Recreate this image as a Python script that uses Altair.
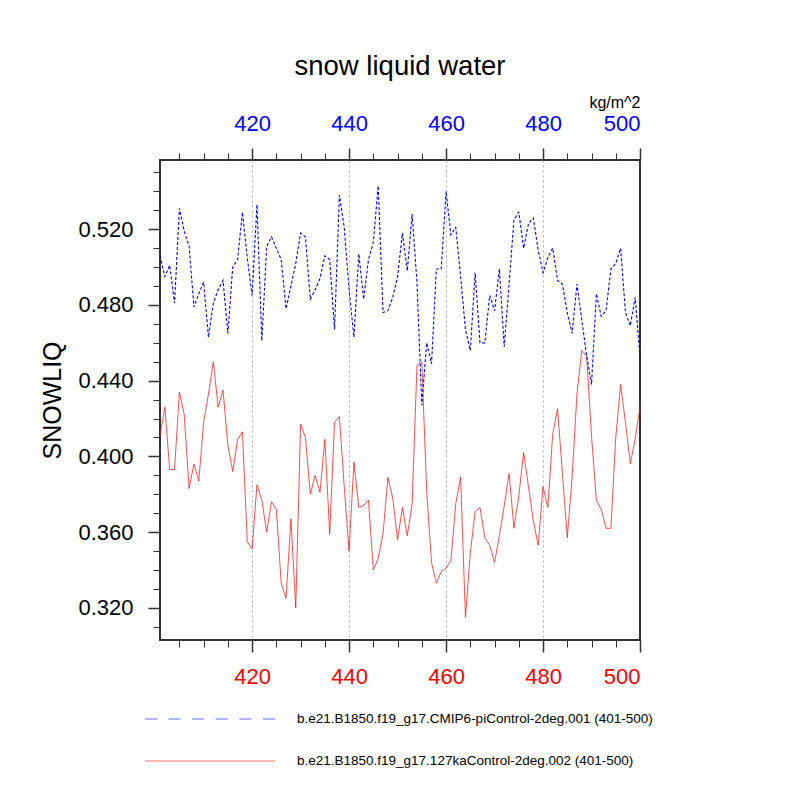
import altair as alt
import pandas as pd

FONT = "Liberation Sans"

years = list(range(401, 501))

blue_vals = [
    0.506, 0.495, 0.501, 0.481, 0.531, 0.519, 0.511, 0.479, 0.486, 0.492,
    0.463, 0.481, 0.488, 0.493, 0.465, 0.500, 0.504, 0.529, 0.505, 0.485,
    0.533, 0.461, 0.511, 0.516, 0.510, 0.504, 0.478, 0.490, 0.502, 0.518,
    0.516, 0.483, 0.488, 0.494, 0.506, 0.504, 0.467, 0.538, 0.521, 0.488,
    0.463, 0.507, 0.483, 0.504, 0.513, 0.543, 0.476, 0.477, 0.484, 0.495,
    0.518, 0.498, 0.528, 0.492, 0.427, 0.460, 0.449, 0.499, 0.499, 0.540,
    0.517, 0.521, 0.495, 0.467, 0.456, 0.497, 0.460, 0.460, 0.485, 0.477,
    0.499, 0.458, 0.491, 0.525, 0.529, 0.510, 0.523, 0.526, 0.509, 0.497,
    0.505, 0.510, 0.493, 0.491, 0.476, 0.465, 0.491, 0.472, 0.453, 0.438,
    0.486, 0.474, 0.477, 0.499, 0.502, 0.510, 0.476, 0.469, 0.484, 0.453,
]

red_vals = [
    0.411, 0.426, 0.393, 0.393, 0.434, 0.422, 0.383, 0.396, 0.387, 0.418,
    0.433, 0.450, 0.426, 0.435, 0.406, 0.392, 0.409, 0.413, 0.355, 0.351,
    0.385, 0.377, 0.360, 0.376, 0.372, 0.333, 0.325, 0.367, 0.320, 0.417,
    0.410, 0.380, 0.390, 0.381, 0.409, 0.359, 0.418, 0.421, 0.384, 0.350,
    0.397, 0.373, 0.374, 0.377, 0.340, 0.346, 0.359, 0.389, 0.378, 0.356,
    0.373, 0.358, 0.375, 0.448, 0.450, 0.382, 0.344, 0.333, 0.339, 0.341,
    0.345, 0.375, 0.389, 0.315, 0.349, 0.371, 0.373, 0.357, 0.353, 0.344,
    0.358, 0.374, 0.391, 0.362, 0.379, 0.402, 0.384, 0.366, 0.353, 0.384,
    0.373, 0.412, 0.425, 0.391, 0.357, 0.389, 0.433, 0.456, 0.453, 0.411,
    0.377, 0.372, 0.362, 0.362, 0.410, 0.438, 0.418, 0.396, 0.409, 0.426,
]

blue_name = "b.e21.B1850.f19_g17.CMIP6-piControl-2deg.001 (401-500)"
red_name = "b.e21.B1850.f19_g17.127kaControl-2deg.002 (401-500)"

major_years = [420, 440, 460, 480, 500]
grid_years = [420, 440, 460, 480]
minor_years = [405, 410, 415, 425, 430, 435, 445, 450, 455, 465, 470, 475,
               485, 490, 495]
major_vals = [0.32, 0.36, 0.40, 0.44, 0.48, 0.52]
minor_vals = [0.31, 0.33, 0.34, 0.35, 0.37, 0.38, 0.39, 0.41, 0.42, 0.43,
              0.45, 0.46, 0.47, 0.49, 0.50, 0.51, 0.53, 0.54, 0.55]

blue_df = pd.DataFrame({"year": years, "value": blue_vals})
red_df = pd.DataFrame({"year": years, "value": red_vals})
leg_blue = pd.DataFrame({"label": [blue_name]})
leg_red = pd.DataFrame({"label": [red_name]})

xscale = alt.Scale(domain=[401, 500], nice=False, zero=False)
yscale = alt.Scale(domain=[0.303, 0.5566], nice=False, zero=False)

TICK = "#333333"
LBL = 22

# red line with bottom/left major axes
red_layer = alt.Chart(red_df).mark_line(color="#ff0000", strokeWidth=0.7).encode(
    x=alt.X("year:Q", scale=xscale, axis=alt.Axis(
        orient="bottom", values=major_years, format="d", tickSize=12,
        tickWidth=1.5, tickColor=TICK, domain=False, labelColor="#ff0000",
        labelFont=FONT, labelFontSize=LBL, labelPadding=14, grid=False,
        title=None)),
    y=alt.Y("value:Q", scale=yscale, axis=alt.Axis(
        orient="left", values=major_vals, format=".3f", tickSize=12,
        tickWidth=1.5, tickColor=TICK, domain=False, labelColor="black",
        labelFont=FONT, labelFontSize=LBL, labelPadding=15, grid=False,
        title="SNOWLIQ", titleFont=FONT, titleFontSize=25,
        titleFontWeight="normal", titleColor="black", titlePadding=12)),
)

# blue line with top major axis
blue_layer = alt.Chart(blue_df).mark_line(
    color="#0000ff", strokeWidth=1.1, strokeDash=[3, 2]).encode(
    x=alt.X("year:Q", scale=xscale, axis=alt.Axis(
        orient="top", values=major_years, format="d", tickSize=12,
        tickWidth=1.5, tickColor=TICK, domain=False, labelColor="#0000ff",
        labelFont=FONT, labelFontSize=LBL, labelPadding=13, grid=False,
        title="kg/m^2", titleFont=FONT, titleFontSize=16,
        titleFontWeight="normal", titleColor="black", titleAnchor="end",
        titlePadding=2)),
    y=alt.Y("value:Q", scale=yscale, axis=None),
)

# minor ticks bottom / left
minor_bl = alt.Chart(red_df).mark_line(opacity=0).encode(
    x=alt.X("year:Q", scale=xscale, axis=alt.Axis(
        orient="bottom", values=minor_years, tickSize=7, tickWidth=1,
        tickColor=TICK, domain=False, labels=False, grid=False, title=None)),
    y=alt.Y("value:Q", scale=yscale, axis=alt.Axis(
        orient="left", values=minor_vals, tickSize=7, tickWidth=1,
        tickColor=TICK, domain=False, labels=False, grid=False, title=None)),
)

# minor ticks top
minor_t = alt.Chart(blue_df).mark_line(opacity=0).encode(
    x=alt.X("year:Q", scale=xscale, axis=alt.Axis(
        orient="top", values=minor_years, tickSize=7, tickWidth=1,
        tickColor=TICK, domain=False, labels=False, grid=False, title=None)),
    y=alt.Y("value:Q", scale=yscale, axis=None),
)

# dotted vertical grid
grid_layer = alt.Chart(red_df).mark_line(opacity=0).encode(
    x=alt.X("year:Q", scale=xscale, axis=alt.Axis(
        orient="bottom", values=grid_years, ticks=False, labels=False,
        domain=False, grid=True, gridColor="#b0b0b0", gridDash=[2, 3],
        gridWidth=1, title=None)),
    y=alt.Y("value:Q", scale=yscale, axis=None),
)

# legend (drawn below the plot)
leg_blue_line = alt.Chart(leg_blue).mark_rule(
    color="#6666ff", strokeWidth=1, strokeDash=[12, 11.6]).encode(
    x=alt.value(-15), x2=alt.value(115), y=alt.value(559))
leg_blue_text = alt.Chart(leg_blue).mark_text(
    align="left", baseline="middle", font=FONT, fontSize=13.5,
    color="black").encode(text="label:N", x=alt.value(137), y=alt.value(559))
leg_red_line = alt.Chart(leg_red).mark_rule(
    color="#f07070", strokeWidth=1).encode(
    x=alt.value(-15), x2=alt.value(115), y=alt.value(601))
leg_red_text = alt.Chart(leg_red).mark_text(
    align="left", baseline="middle", font=FONT, fontSize=13.5,
    color="black").encode(text="label:N", x=alt.value(137), y=alt.value(601))

chart = alt.layer(
    grid_layer, minor_bl, minor_t, red_layer, blue_layer,
    leg_blue_line, leg_blue_text, leg_red_line, leg_red_text,
).resolve_scale(
    x="independent", y="independent"
).properties(
    width=480, height=480,
    autosize=alt.AutoSizeParams(type="none"),
    padding={"left": 152, "top": 152, "right": 144, "bottom": 144},
    title=alt.TitleParams(
        "snow liquid water", font=FONT, fontSize=27.5, fontWeight="normal",
        color="black", anchor="middle", frame="group", offset=14),
).configure_view(
    stroke="#333333", strokeWidth=2
)

chart.save("out.html", embed_options={"renderer": "svg", "actions": False})
